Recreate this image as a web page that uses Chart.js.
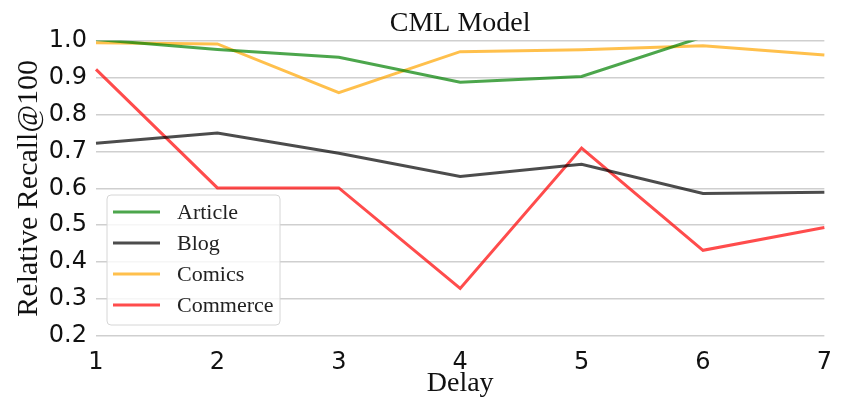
<!DOCTYPE html>
<html>
<head>
<meta charset="utf-8">
<script src="https://cdn.jsdelivr.net/npm/chart.js@4"></script>
<style>
  body { margin: 0; background: #fff; }
</style>
</head>
<body>
<canvas id="cml" width="844" height="400"></canvas>
<script>
//setup
const delays = ["1", "2", "3", "4", "5", "6", "7"];
const article = [1.003, 0.976, 0.955, 0.887, 0.903, 1.01, 1.02];
const blog = [0.722, 0.75, 0.695, 0.632, 0.665, 0.586, 0.589];
const comics = [0.994, 0.991, 0.859, 0.97, 0.975, 0.986, 0.961];
const commerce = [0.922, 0.601, 0.601, 0.329, 0.709, 0.432, 0.494];

const serif = "'Liberation Serif', 'Times New Roman', serif";
const sans = "'DejaVu Sans', sans-serif";

const line = (label, values, color) => ({
	label: label,
	data: values,
	borderColor: color,
	backgroundColor: color,
	borderWidth: 3,
	pointRadius: 0,
	tension: 0,
	fill: false,
});

const data = {
	labels: delays,
	datasets: [
		line("Article", article, "rgba(0,128,0,0.7)"),
		line("Blog", blog, "rgba(0,0,0,0.7)"),
		line("Comics", comics, "rgba(255,165,0,0.7)"),
		line("Commerce", commerce, "rgba(255,0,0,0.7)"),
	],
};

//legend drawn inside the plot, like the matplotlib one
const boxLegend = {
	id: "boxLegend",
	afterDraw(chart) {
		const { ctx } = chart;
		const x = 107, y = 195, w = 173, h = 130;
		ctx.save();
		ctx.beginPath();
		ctx.roundRect(x, y, w, h, 4);
		ctx.fillStyle = "rgba(255,255,255,0.8)";
		ctx.fill();
		ctx.lineWidth = 1;
		ctx.strokeStyle = "#d6d6d6";
		ctx.stroke();
		ctx.font = "22px " + serif;
		ctx.textBaseline = "middle";
		ctx.textAlign = "left";
		chart.data.datasets.forEach((ds, i) => {
			const ry = 212 + i * 31;
			ctx.beginPath();
			ctx.moveTo(113, ry);
			ctx.lineTo(160, ry);
			ctx.lineWidth = 3;
			ctx.strokeStyle = ds.borderColor;
			ctx.stroke();
			ctx.fillStyle = "#222";
			ctx.fillText(ds.label, 177, ry + 1);
		});
		ctx.restore();
	},
};

//config
const config = {
	type: "line",
	data,
	options: {
		responsive: false,
		animation: false,
		layout: {
			padding: { left: 0, right: 19, top: 0, bottom: 0 },
		},
		scales: {
			x: {
				offset: false,
				grid: { display: false, drawTicks: false },
				border: { display: false },
				ticks: {
					color: "#111",
					font: { family: sans, size: 24 },
					padding: 12,
					maxRotation: 0,
				},
				title: {
					display: true,
					text: "Delay",
					color: "#111",
					font: { family: serif, size: 28 },
					padding: { top: 0, bottom: 0 },
				},
				afterFit(scale) {
					scale.height = 64;
				},
			},
			y: {
				min: 0.2,
				max: 1.0,
				grid: { color: "#cfcfcf", lineWidth: 1.5, drawTicks: false },
				border: { display: false },
				ticks: {
					stepSize: 0.1,
					color: "#111",
					font: { family: sans, size: 24 },
					padding: 9,
					callback: (v) => Number(v).toFixed(1),
				},
				title: {
					display: true,
					text: "Relative Recall@100",
					color: "#111",
					font: { family: serif, size: 30 },
					padding: { top: 11, bottom: 0 },
				},
				afterFit(scale) {
					scale.width = 96;
				},
			},
		},
		plugins: {
			legend: { display: false },
			tooltip: { enabled: false },
			title: {
				display: true,
				fullSize: false,
				text: "CML Model",
				color: "#111",
				font: { family: serif, size: 28, weight: "normal" },
				padding: { top: 7, bottom: 0 },
			},
		},
	},
	plugins: [boxLegend],
};

//render
const cmlChart = new Chart(document.getElementById("cml"), config);
</script>
</body>
</html>
